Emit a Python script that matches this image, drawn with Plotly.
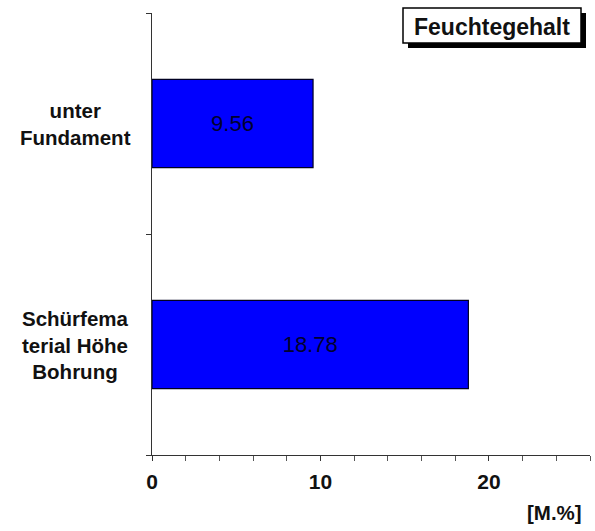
import plotly.graph_objects as go

# Moisture content per sample location
categories = ["Schürfematerial Höhe Bohrung", "unter Fundament"]
category_labels = ["Schürfema<br>terial Höhe<br>Bohrung", "unter<br>Fundament"]
values = [18.78, 9.56]
value_labels = ["18.78", "9.56"]
series_name = "Feuchtegehalt"
unit_label = "[M.%]"
x_tickvals = [0, 10, 20]

W, H = 595, 531
L, R, T, B = 152, 5, 13, 76
pw, ph = W - L - R, H - T - B

def px(x):
    return (x - L) / pw

def py(y):
    return (H - B - y) / ph

FONT = "Liberation Sans, Arial, sans-serif"

fig = go.Figure()
fig.add_trace(go.Bar(
    y=categories,
    x=values,
    orientation="h",
    width=0.40,
    marker=dict(color="#0000ff", line=dict(color="#000022", width=1.2)),
    text=value_labels,
    textposition="inside",
    insidetextanchor="middle",
    textangle=0,
    textfont=dict(family=FONT, size=22, color="#00002e"),
    name=series_name,
    showlegend=False,
))

annotations = []
for cat, lab in zip(categories, category_labels):
    annotations.append(dict(
        x=px(75), xref="paper", y=cat, yref="y",
        text="<b>" + lab + "</b>", showarrow=False,
        xanchor="center", yanchor="middle", align="center",
        font=dict(family=FONT, size=20.5, color="#111111"),
    ))

annotations.append(dict(
    x=px(584), xref="paper", y=py(512), yref="paper",
    text="<b>" + unit_label + "</b>", showarrow=False,
    xanchor="right", yanchor="middle",
    font=dict(family=FONT, size=20.5, color="#111111"),
))

# Series title box with drop shadow
bx0, bx1, by0, by1 = 403, 581, 8, 43
shadow = 5
shapes = [
    dict(type="rect", xref="paper", yref="paper",
         x0=px(bx0 + shadow), x1=px(bx1 + shadow), y0=py(by1 + shadow), y1=py(by0 + shadow),
         fillcolor="#000000", line=dict(width=0), layer="above"),
    dict(type="rect", xref="paper", yref="paper",
         x0=px(bx0), x1=px(bx1), y0=py(by1), y1=py(by0),
         fillcolor="#ffffff", line=dict(color="#000000", width=1.5), layer="above"),
]
annotations.append(dict(
    x=px((bx0 + bx1) / 2), xref="paper", y=py((by0 + by1) / 2 + 1), yref="paper",
    text="<b>" + series_name + "</b>", showarrow=False,
    xanchor="center", yanchor="middle",
    font=dict(family=FONT, size=23, color="#111111"),
))

fig.update_layout(
    width=W, height=H,
    margin=dict(l=L, r=R, t=T, b=B, pad=0),
    paper_bgcolor="#ffffff",
    plot_bgcolor="#ffffff",
    annotations=annotations,
    shapes=shapes,
    bargap=0.6,
)

fig.update_xaxes(
    range=[0, 26],
    tickvals=x_tickvals,
    ticktext=["<b>%d</b>" % v for v in x_tickvals],
    tickfont=dict(family=FONT, size=21, color="#111111"),
    ticks="outside", ticklen=5, tickcolor="#333333", tickwidth=1,
    ticklabelstandoff=3,
    minor=dict(dtick=2, ticks="outside", ticklen=5, tickcolor="#555555", showgrid=False),
    showline=True, linecolor="#333333", linewidth=1.2,
    showgrid=False, zeroline=False,
)

fig.update_yaxes(
    type="category",
    categoryorder="array", categoryarray=categories,
    range=[-0.5, 1.5],
    showticklabels=False,
    ticks="outside", ticklen=5, tickcolor="#333333", tickson="boundaries",
    showline=True, linecolor="#333333", linewidth=1.2,
    showgrid=False, zeroline=False,
)

fig.write_html("out.html")
